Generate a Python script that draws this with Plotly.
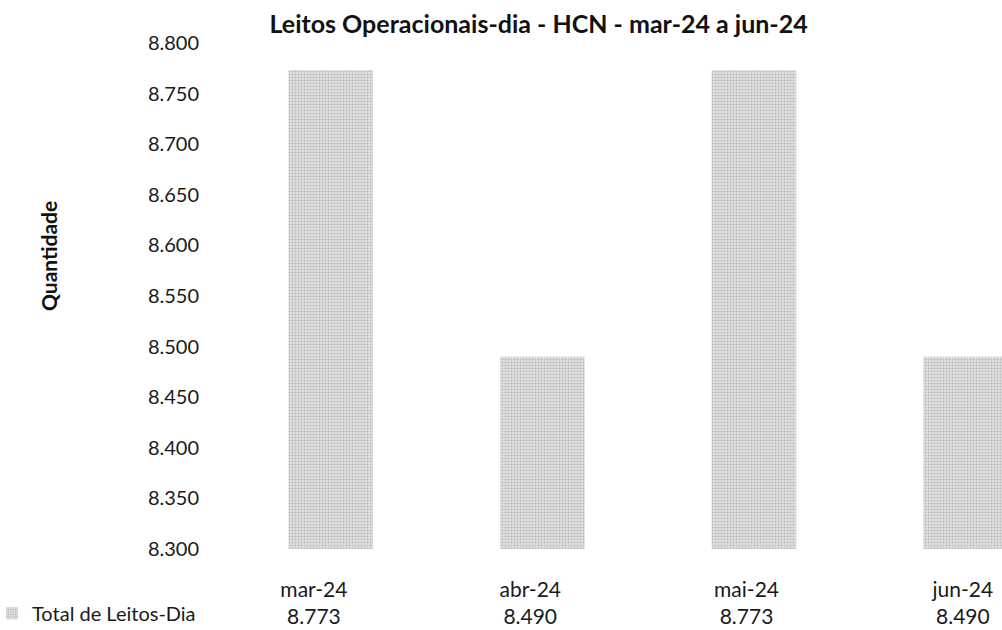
import plotly.graph_objects as go

# Monthly operational bed-days
categories = ["mar-24", "abr-24", "mai-24", "jun-24"]
leitos_dia = [8773, 8490, 8773, 8490]
series_name = "Total de Leitos-Dia"
y_ticks = [8300, 8350, 8400, 8450, 8500, 8550, 8600, 8650, 8700, 8750, 8800]


def fmt_br(v):
    return f"{v:,.0f}".replace(",", ".")


# Data-table rows under the bars: month on top, value underneath
table_text = [f"{c}<br>{fmt_br(v)}" for c, v in zip(categories, leitos_dia)]
table_pos = list(range(len(categories)))

FONT = "Lato, 'Open Sans', sans-serif"
TXT = "#1a1a1a"

fig = go.Figure()
fig.add_trace(go.Bar(
    x=categories,
    y=leitos_dia,
    name=series_name,
    width=0.40,
    marker=dict(
        color="#d2d2d2",
        line=dict(width=0),
        pattern=dict(shape=".", fgcolor="#8f8f8f", bgcolor="#e2e2e2",
                     size=3, solidity=0.4),
    ),
    showlegend=True,
    hoverinfo="x+y",
))

# Invisible carrier for the data-table axis (its columns are spaced a bit wider)
fig.add_trace(go.Scatter(
    x=table_pos, y=leitos_dia, xaxis="x2", mode="markers",
    marker=dict(opacity=0), showlegend=False, hoverinfo="skip",
))

fig.update_layout(
    width=1002,
    height=630,
    margin=dict(l=225, r=0, t=43, b=81, autoexpand=False),
    paper_bgcolor="white",
    plot_bgcolor="white",
    separators=",.",
    font=dict(family=FONT, size=20, color=TXT),
    title=dict(
        text="<b>Leitos Operacionais-dia - HCN - mar-24 a jun-24</b>",
        x=0.5375, xanchor="center",
        y=0.962, yanchor="middle",
        font=dict(family=FONT, size=25, color="#111"),
    ),
    xaxis=dict(
        range=[-0.5, 3.172],
        showticklabels=False,
        showgrid=False,
        showline=False,
        zeroline=False,
        ticks="",
        automargin=False,
    ),
    xaxis2=dict(
        overlaying="x",
        anchor="y",
        side="bottom",
        range=[-0.411, 3.181],
        tickmode="array",
        tickvals=table_pos,
        ticktext=table_text,
        showgrid=False,
        showline=False,
        zeroline=False,
        ticks="",
        ticklabelstandoff=26,
        tickfont=dict(size=21, color=TXT),
        automargin=False,
    ),
    yaxis=dict(
        range=[8300, 8800],
        tickvals=y_ticks,
        tickformat=",d",
        showgrid=False,
        zeroline=False,
        showline=False,
        ticks="",
        ticklabelstandoff=25,
        tickfont=dict(size=20, color=TXT),
        automargin=False,
    ),
    annotations=[dict(
        text="<b>Quantidade</b>",
        xref="paper", yref="paper",
        x=(48 - 225) / 777, y=(549 - 256) / 506,
        xanchor="center", yanchor="middle",
        textangle=-90, showarrow=False,
        font=dict(family=FONT, size=21, color="#111"),
    )],
    legend=dict(
        x=-8 / 777 - 225 / 777, xanchor="left",
        y=-0.127, yanchor="middle",
        bgcolor="rgba(0,0,0,0)",
        font=dict(size=20, color=TXT),
        itemwidth=30,
        tracegroupgap=0,
    ),
)

fig.write_html("out.html")
